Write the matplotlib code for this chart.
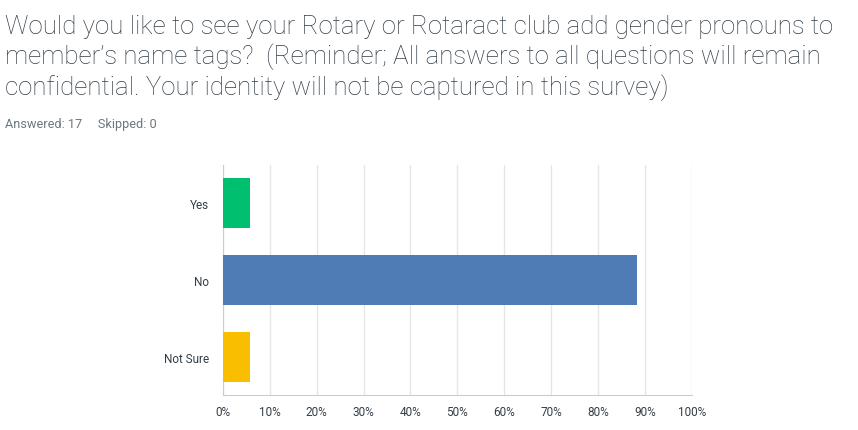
import matplotlib
matplotlib.use("Agg")
import matplotlib.pyplot as plt
from matplotlib.ticker import PercentFormatter

# Survey answers (17 responses)
categories = ["Yes", "No", "Not Sure"]
percents = [5.88, 88.24, 5.88]
bar_colors = ["#00BF6F", "#507CB6", "#F9BE00"]
x_ticks = [0, 10, 20, 30, 40, 50, 60, 70, 80, 90, 100]

title = ("Would you like to see your Rotary or Rotaract club add gender pronouns to\n"
         "member\u2019s name tags?  (Reminder; All answers to all questions will remain\n"
         "confidential. Your identity will not be captured in this survey)")
answered = 17
skipped = 0

plt.rcParams['font.family'] = ['Roboto', 'DejaVu Sans']

fig = plt.figure(figsize=(8.58, 4.31), dpi=100)
ax = fig.add_axes([0.2596, 0.0812, 0.5469, 0.5336])

ax.barh(categories, percents, height=0.65, color=bar_colors, zorder=3)
ax.set_ylim(2.5, -0.5)
ax.set_xlim(0, 100)
ax.set_xticks(x_ticks)
ax.xaxis.set_major_formatter(PercentFormatter(decimals=0))

ax.grid(axis='x', color='#e6e6e6', linewidth=1, zorder=0)
for side in ['top', 'right']:
    ax.spines[side].set_visible(False)
for side in ['left', 'bottom']:
    ax.spines[side].set_color('#cccccc')
ax.tick_params(length=0, labelsize=8.5, labelcolor='#333e48')
ax.tick_params(axis='y', pad=10)
ax.tick_params(axis='x', pad=7)

fig.text(0.006, 0.965, title, ha='left', va='top', fontsize=18.6,
         color='#333e48', linespacing=1.22, fontweight='light')
fig.text(0.006, 0.71, f"Answered: {answered}     Skipped: {skipped}",
         ha='left', va='center', fontsize=9.2, color='#6b787f')

fig.savefig("out.png", dpi=100)
